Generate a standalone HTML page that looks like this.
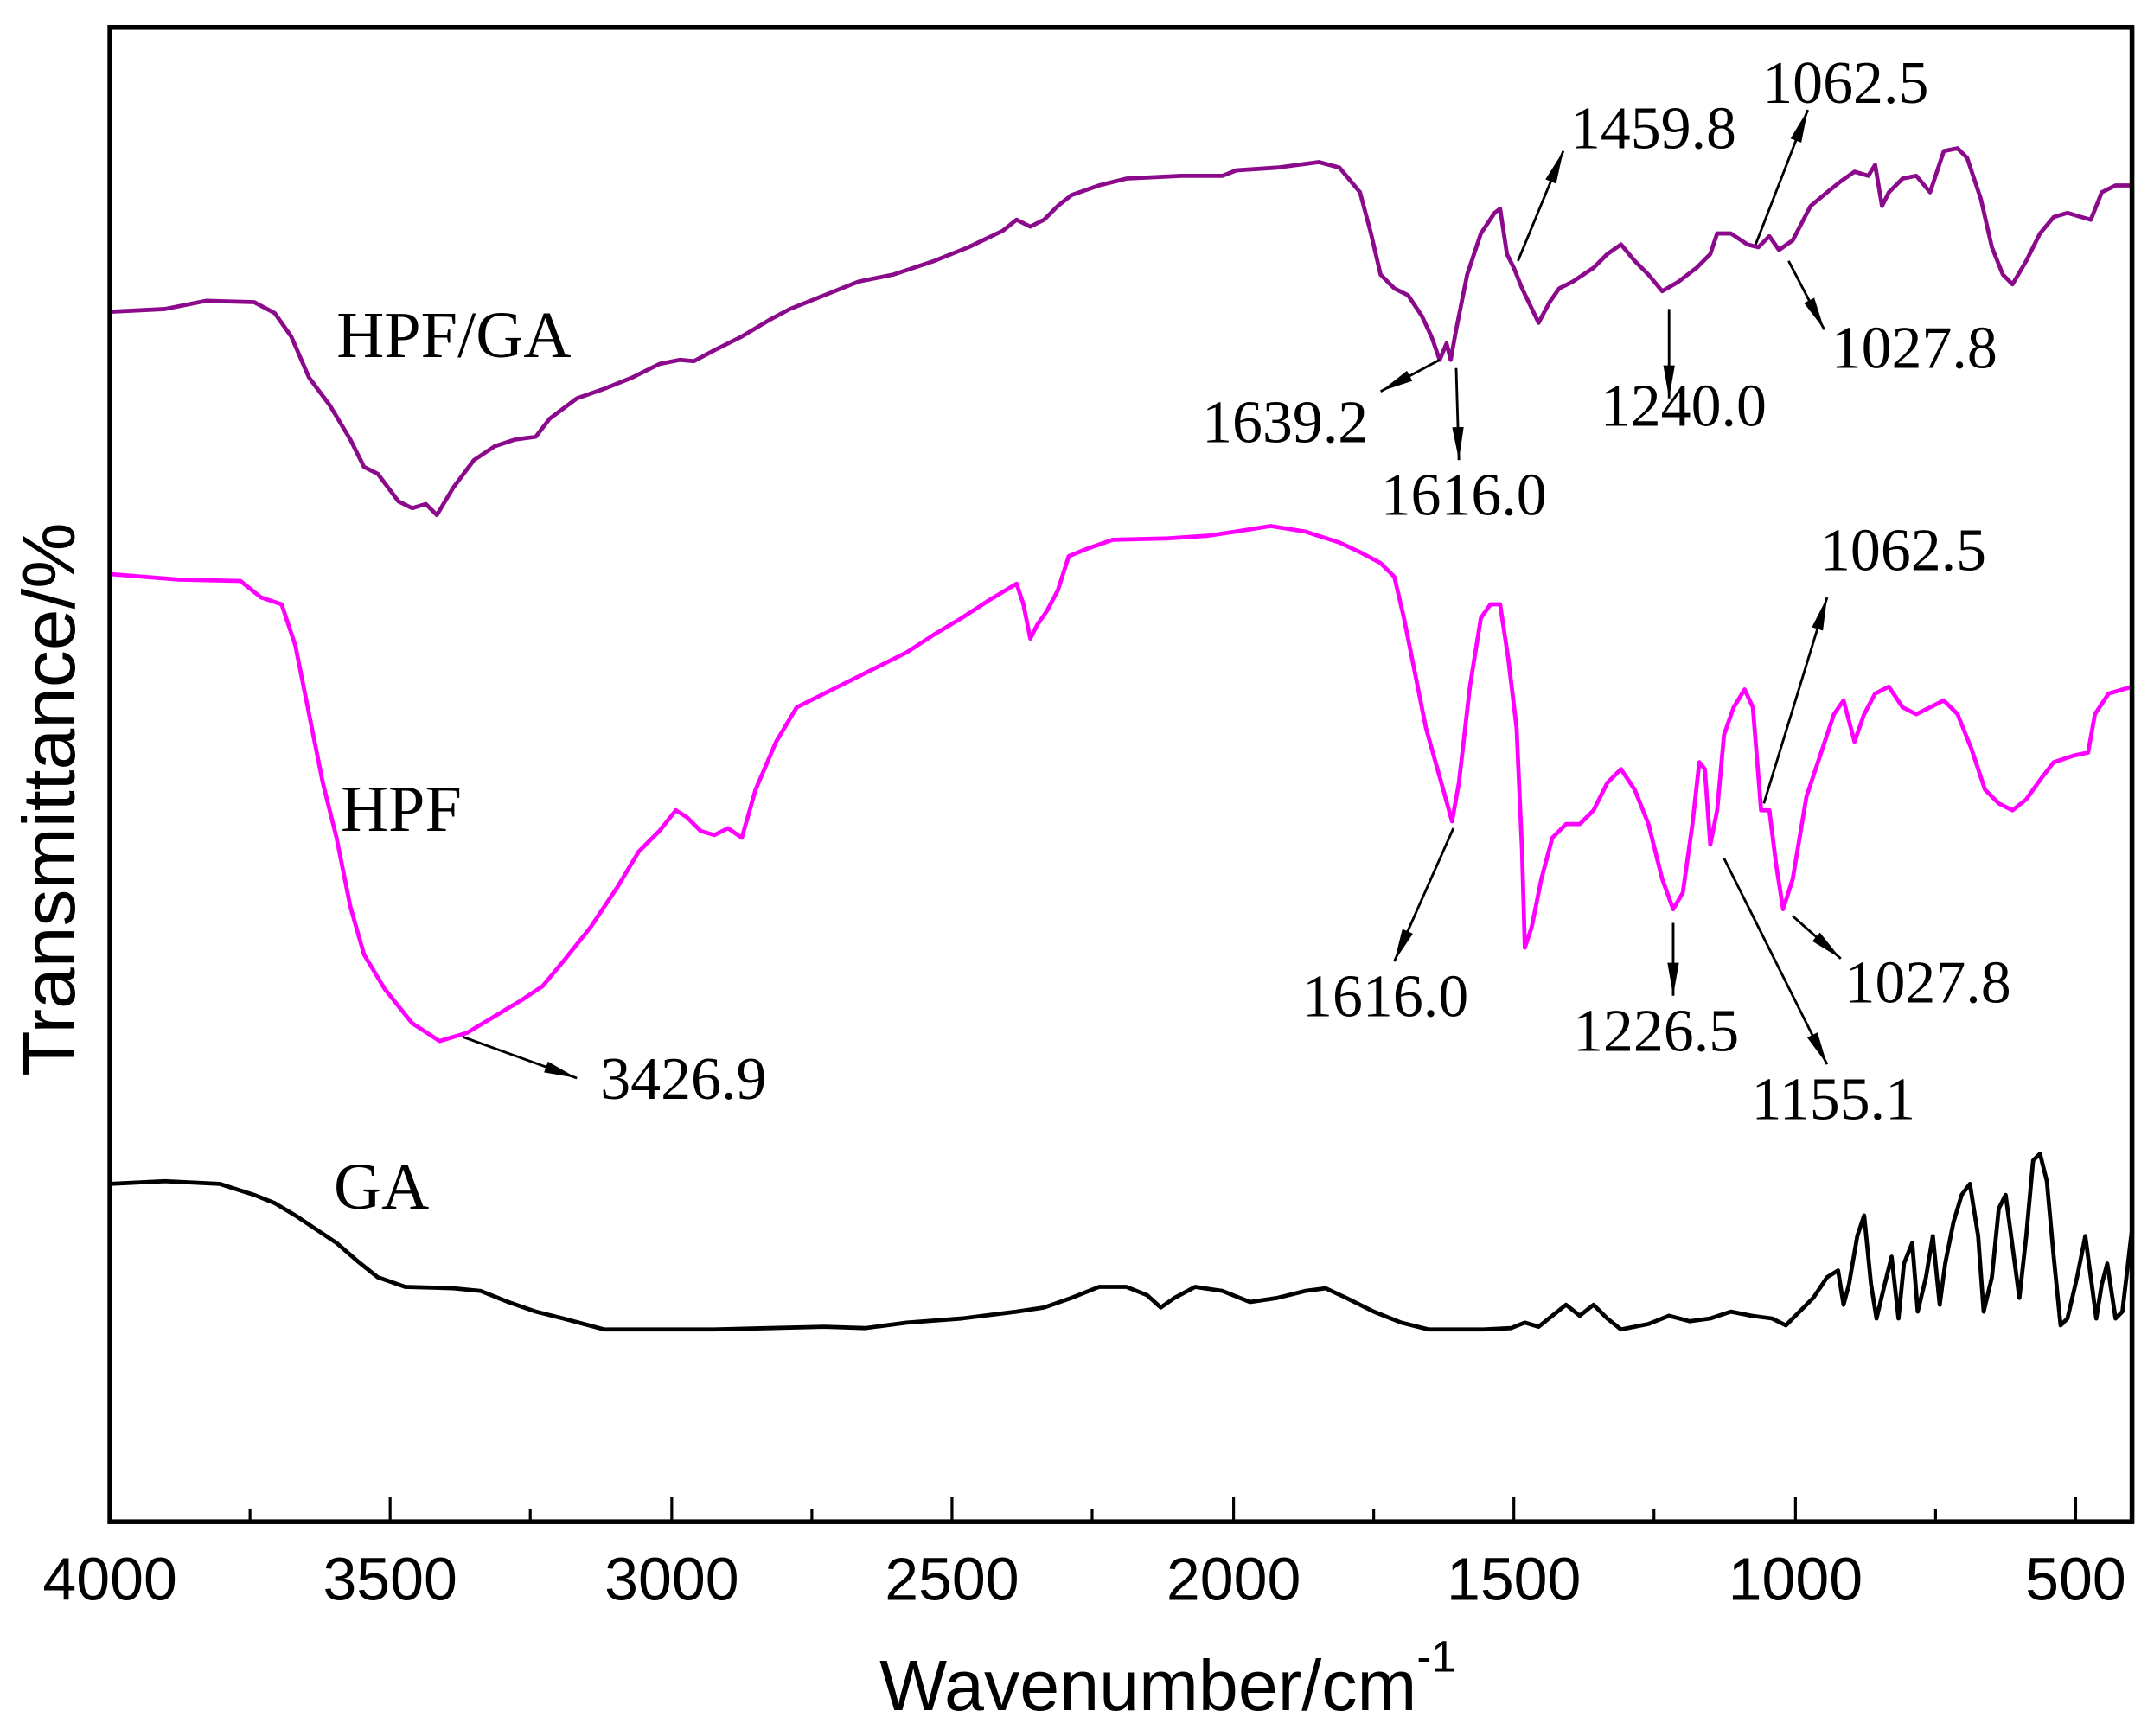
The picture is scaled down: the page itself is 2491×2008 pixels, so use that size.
<!DOCTYPE html>
<html><head><meta charset="utf-8"><style>html,body{margin:0;padding:0;background:#fff}svg{display:block}</style></head>
<body>
<svg width="2491" height="2008" viewBox="0 0 1568 1264" preserveAspectRatio="none" xmlns="http://www.w3.org/2000/svg">
<defs>
<marker id="b" viewBox="0 0 20 10" refX="20" refY="5" markerWidth="24" markerHeight="12" orient="auto" markerUnits="userSpaceOnUse"><path d="M0,1.5 L20,5 L0,8.5 z" fill="#000"/></marker></defs>
<rect x="0" y="0" width="1568" height="1264" fill="#fff"/>
<g fill="none" stroke-linejoin="round" stroke-width="3">
<polyline stroke="#8B0A8B" points="80,227 120,225 150,219 185,220 200,228 212,245 225,275 240,295 255,320 265,340 275,345 290,365 300,370 310,367 318,375 330,355 345,335 360,325 375,320 390,318 400,305 420,290 440,283 460,275 480,265 495,262 505,263 520,255 540,245 560,233 575,225 600,215 625,205 650,200 680,190 705,180 730,168 740,160 750,165 760,160 770,150 780,142 800,135 820,130 860,128 890,128 900,124 930,122 960,118 975,122 990,140 998,170 1005,200 1015,210 1025,215 1035,230 1042,245 1048,262 1053,250 1056,262 1060,240 1068,200 1078,170 1088,155 1092,152 1097,185 1102,195 1108,210 1120,235 1128,220 1135,210 1145,205 1160,195 1170,185 1180,178 1190,190 1200,200 1210,212 1222,205 1235,195 1245,185 1250,170 1260,170 1272,178 1280,180 1288,172 1295,182 1305,175 1318,150 1330,140 1340,132 1350,125 1360,128 1365,120 1370,150 1375,140 1385,130 1395,128 1405,140 1415,110 1425,108 1432,115 1442,145 1450,180 1458,200 1465,207 1475,190 1485,170 1495,158 1505,155 1515,158 1522,160 1530,140 1540,135 1552,135"/>
<polyline stroke="#FF00FF" points="80,418 130,422 175,423 190,435 205,440 215,470 225,520 235,570 245,610 255,660 265,695 280,720 300,745 320,758 340,752 360,740 380,728 395,718 410,700 430,675 450,645 465,620 480,605 492,590 500,595 510,605 520,608 530,603 540,610 550,575 565,540 580,515 600,505 620,495 640,485 660,475 680,462 700,450 720,437 740,425 745,440 750,465 755,455 762,445 770,430 778,405 790,400 810,393 850,392 880,390 900,387 925,383 950,387 975,395 990,402 1005,410 1015,420 1022,450 1030,490 1038,530 1045,555 1052,580 1057,598 1062,570 1070,500 1078,450 1085,440 1092,440 1098,480 1104,530 1108,620 1110,690 1115,675 1122,640 1130,610 1140,600 1150,600 1160,590 1170,570 1180,560 1190,575 1200,600 1210,640 1218,662 1225,650 1232,600 1237,555 1241,560 1245,615 1250,590 1255,535 1262,515 1270,502 1276,515 1282,590 1288,590 1293,630 1298,662 1305,640 1315,580 1325,550 1335,520 1342,510 1350,540 1357,520 1365,505 1375,500 1385,515 1395,520 1405,515 1415,510 1425,520 1435,545 1445,575 1455,585 1465,590 1475,582 1485,568 1495,555 1510,550 1520,548 1525,520 1535,505 1552,500"/>
<polyline stroke="#000" points="80,862 120,860 160,862 185,870 200,876 215,885 230,895 245,905 260,918 275,930 295,937 330,938 350,940 370,948 390,955 410,960 440,968 480,968 520,968 560,967 600,966 630,967 660,963 700,960 740,955 760,952 780,945 800,937 820,937 835,943 845,952 855,945 870,937 890,940 910,948 930,945 950,940 965,938 980,945 1000,955 1020,963 1040,968 1060,968 1080,968 1100,967 1110,963 1120,966 1130,958 1140,950 1150,958 1160,950 1170,960 1180,968 1200,964 1215,958 1230,962 1245,960 1260,955 1275,958 1290,960 1300,965 1310,955 1320,945 1330,930 1338,925 1342,950 1346,935 1352,900 1357,885 1362,935 1366,960 1372,935 1377,915 1382,960 1386,920 1392,905 1396,955 1402,930 1407,900 1412,950 1416,920 1422,890 1428,870 1434,862 1440,900 1444,955 1450,930 1455,880 1460,870 1464,900 1470,945 1475,900 1480,845 1485,840 1490,860 1495,915 1500,965 1505,960 1512,930 1518,900 1522,930 1526,960 1530,935 1534,920 1540,960 1545,955 1552,895"/>
</g>
<rect x="80" y="20" width="1472" height="1088" fill="none" stroke="#000" stroke-width="3.5"/>
<g stroke="#000" stroke-width="2">
<line x1="80" y1="1108" x2="80" y2="1090"/><line x1="182" y1="1108" x2="182" y2="1099"/>
<line x1="284" y1="1108" x2="284" y2="1090"/><line x1="386" y1="1108" x2="386" y2="1099"/>
<line x1="489" y1="1108" x2="489" y2="1090"/><line x1="591" y1="1108" x2="591" y2="1099"/>
<line x1="693" y1="1108" x2="693" y2="1090"/><line x1="795" y1="1108" x2="795" y2="1099"/>
<line x1="898" y1="1108" x2="898" y2="1090"/><line x1="1000" y1="1108" x2="1000" y2="1099"/>
<line x1="1102" y1="1108" x2="1102" y2="1090"/><line x1="1204" y1="1108" x2="1204" y2="1099"/>
<line x1="1307" y1="1108" x2="1307" y2="1090"/><line x1="1409" y1="1108" x2="1409" y2="1099"/>
<line x1="1511" y1="1108" x2="1511" y2="1090"/>
</g>
<g font-family="Liberation Sans, sans-serif" font-size="44" text-anchor="middle" fill="#000">
<text x="80" y="1165">4000</text><text x="284" y="1165">3500</text><text x="489" y="1165">3000</text><text x="693" y="1165">2500</text><text x="898" y="1165">2000</text><text x="1102" y="1165">1500</text><text x="1307" y="1165">1000</text><text x="1511" y="1165">500</text>
<text x="850" y="1245" font-size="52">Wavenumber/cm<tspan font-size="32" dy="-28">-1</tspan></text>
<text transform="translate(54,582) rotate(-90)" font-size="54">Transmittance/%</text>
</g>
<g font-family="Liberation Serif, serif" font-size="44" fill="#000">
<text x="245" y="260" font-size="48">HPF/GA</text>
<text x="248" y="605" font-size="48">HPF</text>
<text x="243" y="880" font-size="48">GA</text>
<text x="1143" y="108">1459.8</text>
<text x="1283" y="75">1062.5</text>
<text x="875" y="322">1639.2</text>
<text x="1005" y="375">1616.0</text>
<text x="1165" y="310">1240.0</text>
<text x="1333" y="268">1027.8</text>
<text x="1325" y="415">1062.5</text>
<text x="948" y="740">1616.0</text>
<text x="437" y="800">3426.9</text>
<text x="1145" y="765">1226.5</text>
<text x="1275" y="815">1155.1</text>
<text x="1343" y="730">1027.8</text>
</g>
<g stroke="#000" stroke-width="1.8" marker-end="url(#b)">
<line x1="1105" y1="190" x2="1138" y2="110"/>
<line x1="1278" y1="178" x2="1316" y2="80"/>
<line x1="1048" y1="262" x2="1005" y2="285"/>
<line x1="1060" y1="268" x2="1062" y2="335"/>
<line x1="1215" y1="225" x2="1215" y2="290"/>
<line x1="1302" y1="190" x2="1328" y2="240"/>
<line x1="1284" y1="585" x2="1330" y2="435"/>
<line x1="1058" y1="603" x2="1015" y2="700"/>
<line x1="337" y1="755" x2="420" y2="785"/>
<line x1="1218" y1="672" x2="1218" y2="725"/>
<line x1="1255" y1="625" x2="1330" y2="775"/>
<line x1="1305" y1="667" x2="1340" y2="698"/>
</g>
</svg>
</body></html>
